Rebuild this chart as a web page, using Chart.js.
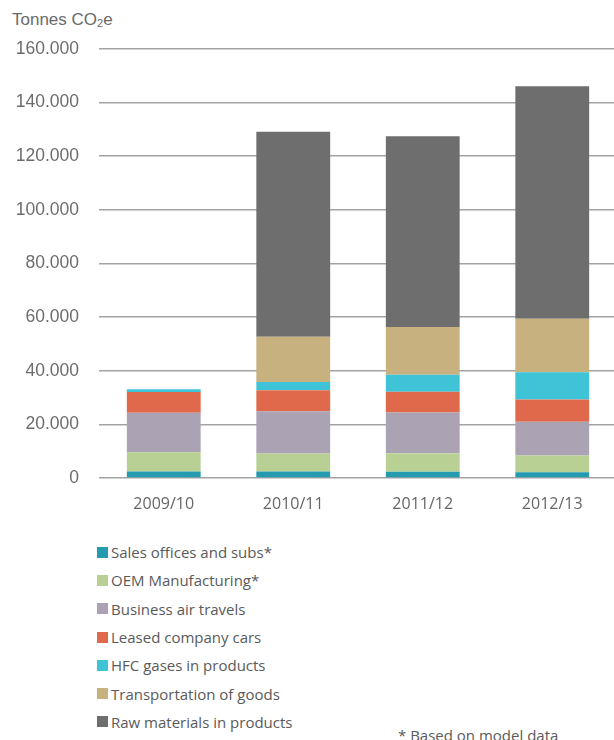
<!DOCTYPE html>
<html>
<head>
<meta charset="utf-8">
<script src="https://cdn.jsdelivr.net/npm/chart.js@4/dist/chart.umd.min.js"></script>
<style>
  html, body { margin: 0; padding: 0; background: #fff; overflow: hidden; width: 614px; height: 740px; }
  .page { position: relative; width: 614px; height: 740px; overflow: hidden; }
  .unit { position: absolute; left: 12px; top: 10px; font: 17px "Liberation Sans", Arial, sans-serif; color: #6a6a6a; }
  .unit sub { font-size: 11px; vertical-align: -2px; }
  .chart-box { position: absolute; left: 0; top: 0; width: 620px; height: 530px; }
  .legend { position: absolute; left: 97px; top: 538px; margin: 0; padding: 0; list-style: none; }
  .legend li { height: 28.3px; display: flex; align-items: center; font: 15px "Open Sans", sans-serif; color: #5a5a5a; }
  .legend i { display: inline-block; width: 11px; height: 11px; margin-right: 3px; }
  .note { position: absolute; left: 398px; top: 725px; font: 15px "Open Sans", sans-serif; color: #5a5a5a; }
</style>
</head>
<body>
<div class="page">
  <div class="unit">Tonnes CO<sub>2</sub>e</div>
  <div class="chart-box"><canvas id="myChart"></canvas></div>
  <ul class="legend" id="legend"></ul>
  <div class="note">* Based on model data</div>
</div>
<script>
const years = ['2009/10', '2010/11', '2011/12', '2012/13'];

// tonnes CO2e
const sales_offices = [2400, 2400, 2300, 2100];
const oem_manufacturing = [7200, 6700, 6900, 6300];
const air_travels = [14700, 15800, 15200, 12600];
const company_cars = [7800, 7800, 7800, 8300];
const hfc_gases = [1000, 3100, 6300, 10100];
const transportation = [0, 16900, 17800, 20000];
const raw_materials = [0, 76400, 71200, 86700];

const y_ticks = [0, 20000, 40000, 60000, 80000, 100000, 120000, 140000, 160000];

const series = [
    ['Sales offices and subs*', sales_offices, '#259bb0'],
    ['OEM Manufacturing*', oem_manufacturing, '#b8d094'],
    ['Business air travels', air_travels, '#aba3b3'],
    ['Leased company cars', company_cars, '#e0694b'],
    ['HFC gases in products', hfc_gases, '#3ec3d7'],
    ['Transportation of goods', transportation, '#c6b17f'],
    ['Raw materials in products', raw_materials, '#6e6e6e'],
];

function fmt(v) {
    // 160000 -> 160.000
    return String(v).replace(/\B(?=(\d{3})+(?!\d))/g, '.');
}

const data = {
    labels: years,
    datasets: series.map(s => ({
        label: s[0],
        data: s[1],
        backgroundColor: s[2],
        borderWidth: 0,
        barPercentage: 0.57,
        categoryPercentage: 1,
    })),
};

const config = {
    type: 'bar',
    data: data,
    options: {
        responsive: true,
        maintainAspectRatio: false,
        devicePixelRatio: 1,
        animation: false,
        layout: { padding: { top: 49, right: 3, left: 0, bottom: 0 } },
        plugins: { legend: { display: false }, tooltip: { enabled: false } },
        scales: {
            x: {
                stacked: true,
                grid: { display: false, drawTicks: false },
                border: { display: false },
                ticks: {
                    padding: 17,
                    color: '#666',
                    font: { family: 'Open Sans', size: 16 },
                },
                afterFit: scale => { scale.height = 52; },
            },
            y: {
                stacked: true,
                min: 0,
                max: 160000,
                afterBuildTicks: scale => { scale.ticks = y_ticks.map(v => ({ value: v })); },
                grid: { color: '#a3a3a3', lineWidth: 1.6, drawTicks: false },
                border: { display: false },
                ticks: {
                    padding: 20,
                    color: '#6c6c6c',
                    font: { family: 'Liberation Sans', size: 17.5 },
                    callback: v => fmt(v),
                },
                afterFit: scale => { scale.width = 99; },
            },
        },
    },
};

const myChart = new Chart(document.getElementById('myChart'), config);

// legend, one row per series, bottom segment first
const legend = document.getElementById('legend');
myChart.data.datasets.forEach(ds => {
    const li = document.createElement('li');
    const box = document.createElement('i');
    box.style.background = ds.backgroundColor;
    li.appendChild(box);
    li.appendChild(document.createTextNode(ds.label));
    legend.appendChild(li);
});
</script>
</body>
</html>
